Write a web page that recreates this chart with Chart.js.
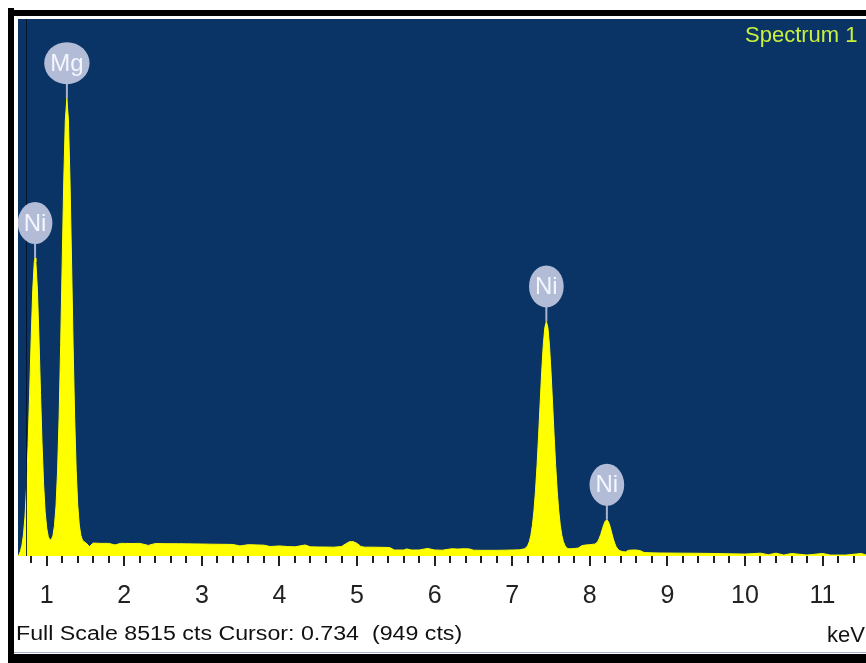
<!DOCTYPE html>
<html>
<head>
<meta charset="utf-8">
<script src="https://cdn.jsdelivr.net/npm/chart.js@4.4.1/dist/chart.umd.min.js"></script>
<style>
  html, body { margin: 0; padding: 0; background: #fff; width: 866px; height: 663px; overflow: hidden; }
  #wrap { position: relative; width: 866px; height: 663px; }
  #c { position: absolute; left: 0; top: 0; }
  .bar { position: absolute; background: #000; }
  .txt { position: absolute; font-family: 'Liberation Sans', Arial, sans-serif; line-height: 1; white-space: pre; color: #111; }
</style>
</head>
<body>
<div id="wrap">
  <canvas id="c" width="866" height="663"></canvas>
  <div class="bar" style="left:8px;top:8px;width:6px;height:655px"></div>
  <div class="bar" style="left:8px;top:10px;width:858px;height:6px"></div>
  <div style="position:absolute;left:14px;top:652px;width:852px;height:1px;background:#9fb0c8"></div>
  <div class="bar" style="left:8px;top:654px;width:858px;height:9px"></div>
  <div id="status" class="txt" style="left:16px;top:623px;font-size:20px;transform:scaleX(1.16);transform-origin:0 0"></div>
  <div id="unit" class="txt" style="left:827px;top:624px;font-size:22px">keV</div>
  <div id="title" class="txt" style="left:745px;top:24px;font-size:22px;color:#c8f03c">Spectrum 1</div>
</div>
<script>
// Spectrum 1: energy (keV) and counts per channel
const energies = [
  0.63, 0.64, 0.66, 0.68, 0.70, 0.72, 0.74, 0.76, 0.78, 0.80, 0.82, 0.84, 0.85, 0.86, 0.88, 0.90,
  0.92, 0.94, 0.96, 0.98, 1.00, 1.02, 1.04, 1.06, 1.08, 1.10, 1.12, 1.14, 1.16, 1.18, 1.20, 1.22,
  1.24, 1.26, 1.28, 1.30, 1.32, 1.34, 1.36, 1.38, 1.40, 1.42, 1.44, 1.46, 1.48, 1.50, 1.55, 1.60,
  1.70, 1.80, 1.88, 1.95, 2.00, 2.10, 2.20, 2.31, 2.40, 2.50, 2.60, 2.70, 2.80, 2.90, 3.00, 3.10,
  3.20, 3.30, 3.40, 3.49, 3.60, 3.70, 3.80, 3.88, 4.00, 4.10, 4.20, 4.33, 4.40, 4.50, 4.60, 4.70,
  4.80, 4.85, 4.90, 4.95, 5.00, 5.05, 5.10, 5.20, 5.30, 5.42, 5.48, 5.60, 5.64, 5.70, 5.80, 5.91,
  6.00, 6.10, 6.22, 6.30, 6.38, 6.45, 6.50, 6.60, 6.70, 6.80, 6.90, 7.00, 7.10, 7.16, 7.18, 7.20,
  7.22, 7.24, 7.26, 7.28, 7.30, 7.32, 7.34, 7.36, 7.38, 7.40, 7.42, 7.44, 7.46, 7.48, 7.50, 7.52,
  7.54, 7.56, 7.58, 7.60, 7.62, 7.64, 7.66, 7.68, 7.70, 7.72, 7.76, 7.80, 7.85, 7.90, 7.95, 8.00,
  8.04, 8.06, 8.08, 8.10, 8.12, 8.14, 8.16, 8.18, 8.20, 8.22, 8.24, 8.26, 8.28, 8.30, 8.32, 8.34,
  8.36, 8.38, 8.42, 8.46, 8.50, 8.55, 8.60, 8.65, 8.70, 8.80, 8.90, 9.00, 9.20, 9.40, 9.60, 9.80,
  10.00, 10.20, 10.30, 10.40, 10.50, 10.60, 10.80, 11.00, 11.10, 11.30, 11.50, 11.56
];
const counts = [
  5, 10, 70, 165, 333, 623, 1089, 1750, 2575, 3462, 4221, 4666, 4725, 4666, 4231, 3472,
  2595, 1780, 1139, 703, 443, 309, 256, 260, 323, 481, 797, 1349, 2207, 3355, 4687, 5967,
  6910, 7260, 6915, 5972, 4692, 3360, 2212, 1359, 807, 491, 329, 256, 226, 215, 150, 205,
  200, 200, 175, 200, 200, 198, 200, 168, 198, 196, 195, 195, 193, 192, 190, 188,
  186, 185, 183, 160, 180, 176, 172, 150, 160, 150, 145, 175, 145, 143, 142, 140,
  150, 190, 225, 228, 200, 150, 140, 140, 138, 135, 95, 95, 112, 95, 95, 120,
  95, 92, 115, 110, 116, 112, 92, 90, 90, 90, 92, 95, 98, 116, 134, 167,
  227, 327, 485, 716, 1033, 1436, 1911, 2425, 2922, 3341, 3622, 3720, 3622, 3341, 2922, 2425,
  1911, 1436, 1033, 716, 485, 327, 227, 167, 134, 116, 115, 120, 125, 165, 175, 180,
  186, 188, 200, 227, 275, 339, 419, 498, 555, 575, 545, 473, 379, 284, 205, 147,
  110, 88, 70, 65, 90, 95, 95, 85, 55, 50, 48, 47, 45, 43, 40, 35,
  30, 45, 20, 45, 15, 40, 15, 40, 15, 15, 40, 15
];

// Identified peaks
const peakNames = ['Ni', 'Mg', 'Ni', 'Ni'];
const peakEnergies = [0.85, 1.26, 7.44, 8.22];
const peakCounts = [4725, 7260, 3720, 575];

// Acquisition readout
const fullScale = 8515;
const cursorKeV = 0.734;
const cursorCounts = 949;
const energyMin = 0.63;
const energyMax = 11.56;

// Axis ticks every 0.2 keV, labelled at whole keV
const tickValues = [];
for (let k = 4; k <= 57; k++) tickValues.push(Math.round(k * 2) / 10);
const isMajor = v => Math.abs(v - Math.round(v)) < 1e-6;

document.getElementById('status').textContent =
  'Full Scale ' + fullScale + ' cts Cursor: ' + cursorKeV.toFixed(3) + '  (' + cursorCounts + ' cts)';

const NARROW = "'Liberation Sans Narrow', 'Arial Narrow', 'Liberation Sans', Arial, sans-serif";

const spectrumDecor = {
  id: 'spectrumDecor',
  beforeDatasetsDraw(chart) {
    const { ctx, chartArea: a } = chart;
    ctx.save();
    ctx.fillStyle = '#0a3366';
    ctx.fillRect(a.left, a.top, a.right - a.left, a.bottom - a.top);
    ctx.restore();
  },
  afterDatasetsDraw(chart) {
    const { ctx, chartArea: a, scales: { x, y } } = chart;
    ctx.save();
    ctx.beginPath();
    ctx.rect(a.left, a.top, a.right - a.left, a.bottom - a.top);
    ctx.clip();

    // cursor marker
    const cx = Math.round(x.getPixelForValue(cursorKeV)) + 0.5;
    ctx.strokeStyle = 'rgba(0, 16, 40, 0.85)';
    ctx.lineWidth = 1;
    ctx.beginPath();
    ctx.moveTo(cx, a.top);
    ctx.lineTo(cx, a.bottom);
    ctx.stroke();

    // peak identification tags
    ctx.font = '24px ' + NARROW;
    ctx.textAlign = 'center';
    ctx.textBaseline = 'middle';
    peakNames.forEach((name, i) => {
      const px = x.getPixelForValue(peakEnergies[i]);
      const py = y.getPixelForValue(peakCounts[i]);
      const ry = 21;
      const cy = py - 35;
      const rx = Math.max(16, ctx.measureText(name).width / 2 + 6);
      ctx.strokeStyle = '#aab4cf';
      ctx.lineWidth = 2;
      ctx.beginPath();
      ctx.moveTo(px, py);
      ctx.lineTo(px, cy + ry - 2);
      ctx.stroke();
      ctx.fillStyle = '#b3bcd6';
      ctx.beginPath();
      ctx.ellipse(px, cy, rx, ry, 0, 0, Math.PI * 2);
      ctx.fill();
      ctx.fillStyle = '#f4f6ff';
      ctx.fillText(name, px, cy + 1);
    });
    ctx.restore();
  },
  afterDraw(chart) {
    const { ctx, chartArea: a, scales: { x } } = chart;
    ctx.save();
    ctx.strokeStyle = '#222';
    ctx.lineWidth = 2;
    tickValues.forEach(v => {
      if (isMajor(v)) return;
      const px = Math.round(x.getPixelForValue(v));
      ctx.beginPath();
      ctx.moveTo(px, a.bottom);
      ctx.lineTo(px, a.bottom + 7);
      ctx.stroke();
    });
    ctx.restore();
  }
};

new Chart(document.getElementById('c'), {
  type: 'line',
  data: {
    datasets: [{
      data: energies.map((e, i) => ({ x: e, y: counts[i] })),
      borderColor: '#ffff00',
      backgroundColor: '#ffff00',
      borderWidth: 1,
      fill: 'origin',
      pointRadius: 0,
      tension: 0
    }]
  },
  options: {
    responsive: false,
    animation: false,
    events: [],
    layout: { padding: { left: 18, top: 19, right: 0, bottom: 57 } },
    plugins: { legend: { display: false }, tooltip: { enabled: false } },
    scales: {
      x: {
        type: 'linear',
        min: energyMin,
        max: energyMax,
        afterBuildTicks: s => { s.ticks = tickValues.map(v => ({ value: v })); },
        afterFit: s => { s.height = 50; s.paddingLeft = 0; s.paddingRight = 0; },
        border: { display: false },
        grid: {
          drawOnChartArea: false,
          drawTicks: true,
          tickLength: 10,
          lineWidth: 2,
          color: c => (c.tick && isMajor(c.tick.value)) ? '#222' : 'rgba(0,0,0,0)'
        },
        ticks: {
          autoSkip: false,
          maxRotation: 0,
          padding: 15,
          color: '#222',
          font: { family: NARROW, size: 25 },
          callback: v => isMajor(v) ? String(Math.round(v)) : ''
        }
      },
      y: { display: false, min: 0, max: fullScale }
    }
  },
  plugins: [spectrumDecor]
});
</script>
</body>
</html>
